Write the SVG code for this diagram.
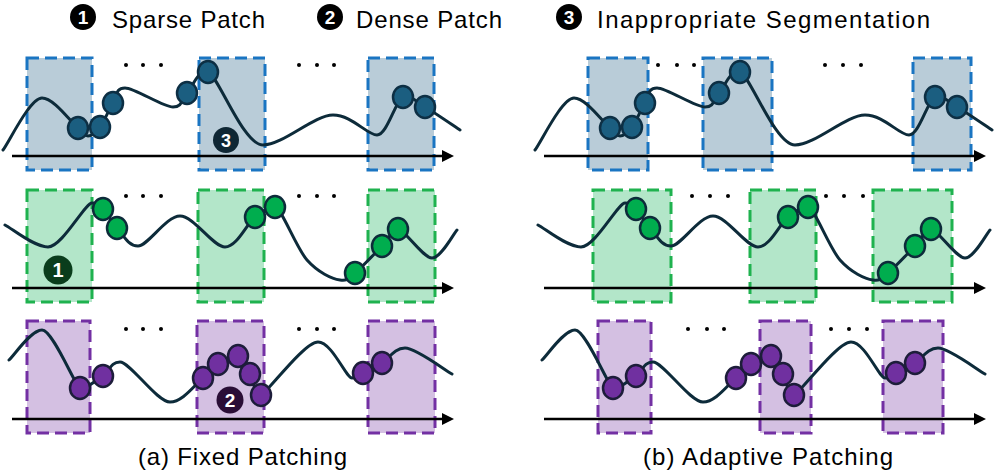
<svg xmlns="http://www.w3.org/2000/svg" xmlns:xlink="http://www.w3.org/1999/xlink" width="995" height="475" viewBox="0 0 995 475">
<style>
.txt{font-family:"Liberation Sans",Arial,sans-serif;fill:#000}
.num{font-family:"Liberation Sans",Arial,sans-serif;font-weight:bold;fill:#fff;text-anchor:middle}
.curve{fill:none;stroke:#0d2b3a;stroke-width:3;stroke-linecap:round;stroke-linejoin:round}
.axis{stroke:#000;stroke-width:2.5;fill:none}
.rb{fill:#b9ccd8;stroke:#1a75c2;stroke-width:3;stroke-dasharray:12 6}
.rg{fill:#b3e6c9;stroke:#1fb24f;stroke-width:3;stroke-dasharray:12 6}
.rp{fill:#d4c0e2;stroke:#7330a3;stroke-width:3;stroke-dasharray:12 6}
.cb{fill:#1b5e80;stroke:#0d2f44;stroke-width:2.5}
.cg{fill:#00ad4e;stroke:#0d2b3a;stroke-width:2.5}
.cp{fill:#7030a0;stroke:#1d1d3a;stroke-width:2.5}
.dot{fill:#000}
</style>
<defs>
<marker id="arr" markerWidth="12" markerHeight="12" refX="1" refY="6" orient="auto" markerUnits="userSpaceOnUse">
<path d="M0,0 L12,6 L0,12 Z" fill="#000"/>
</marker>
<g id="row1">
<path class="curve" d="M3,150 C9.5,141.3 30,98 42,98 C54,98 70.3,121.7 78,128 C85.7,134.3 84.3,136 88,136 C91.7,136 95.8,132.5 100,127 C104.2,121.5 108.8,109.5 113,103 C117.2,96.5 115,88 125,88 C135,88 163,107 173,107 C183,107 181.2,98.8 187,93 C192.8,87.2 198,69 208,72 C218,75 243,145 263,145 C283,145 314,115 333,115 C352,115 367,135 377,135 C387,135 395,101.7 403,97 C411,94.3 415.5,101.5 425,107 C434.5,112.5 454.2,126.2 460,130"/>
<ellipse class="cb" cx="78" cy="128" rx="10" ry="11"/>
<ellipse class="cb" cx="100" cy="127" rx="10" ry="11"/>
<ellipse class="cb" cx="113" cy="103" rx="10" ry="11"/>
<ellipse class="cb" cx="187" cy="93" rx="10" ry="11"/>
<ellipse class="cb" cx="208" cy="72" rx="10" ry="11"/>
<ellipse class="cb" cx="403" cy="97" rx="10" ry="11"/>
<ellipse class="cb" cx="425" cy="107" rx="10" ry="11"/>
</g>
<g id="row2">
<path class="curve" d="M5,225 C12.2,228.7 34,247 48,247 C62,247 85,203 92,203 C99,203 98.8,204.8 103,209 C107.2,213.2 111.2,221.8 117,228 C122.8,234.2 128,246 138,246 C148,246 166,216 180,216 C194,216 213,247 225,247 C237,247 246.7,223.7 255,217 C263.3,210.3 269,207 275,207 C281,207 296.2,247.8 307,260 C317.8,272.2 332,279 340,280 C348,281 348,278.7 355,273 C362,267.3 374.8,253.3 382,246 C389.2,238.7 392,229 398,229 C404,229 423,258 432,258 C441,258 452.8,234.7 457,230"/>
<ellipse class="cg" cx="103" cy="209" rx="10" ry="11"/>
<ellipse class="cg" cx="117" cy="228" rx="10" ry="11"/>
<ellipse class="cg" cx="255" cy="217" rx="10" ry="11"/>
<ellipse class="cg" cx="275" cy="207" rx="10" ry="11"/>
<ellipse class="cg" cx="355" cy="273" rx="10" ry="11"/>
<ellipse class="cg" cx="382" cy="246" rx="10" ry="11"/>
<ellipse class="cg" cx="398" cy="229" rx="10" ry="11"/>
</g>
<g id="row3">
<path class="curve" d="M9,360 C14.5,355 31,330 42,330 C53,330 75,386 80,388 C85,390 96.3,380.3 103,376 C109.7,371.7 110,362 120,362 C130,362 157,402 170,402 C183,402 195,384.3 203,378 C211,371.7 212.2,367.7 218,364 C223.8,360.3 233,356 238,356 C243,356 246.2,367.5 250,374 C253.8,380.5 255,397 261,395 C267,393 304,342 318,342 C332,342 346,378 352,378 C358,378 358,375.5 363,373 C368,370.5 375,367.2 382,363 C389,358.8 394,348 405,348 C416,348 444.2,369.7 452,374"/>
<ellipse class="cp" cx="80" cy="388" rx="10" ry="11"/>
<ellipse class="cp" cx="103" cy="376" rx="10" ry="11"/>
<ellipse class="cp" cx="203" cy="378" rx="10" ry="11"/>
<ellipse class="cp" cx="218" cy="364" rx="10" ry="11"/>
<ellipse class="cp" cx="238" cy="356" rx="10" ry="11"/>
<ellipse class="cp" cx="250" cy="374" rx="10" ry="11"/>
<ellipse class="cp" cx="261" cy="395" rx="10" ry="11"/>
<ellipse class="cp" cx="363" cy="373" rx="10" ry="11"/>
<ellipse class="cp" cx="382" cy="363" rx="10" ry="11"/>
</g>
</defs>

<g id="legend">
<circle cx="83" cy="17" r="13" fill="#000"/>
<text class="num" x="83" y="24" font-size="19">1</text>
<text class="txt" x="112" y="28" font-size="24" textLength="153" lengthAdjust="spacing">Sparse Patch</text>
<circle cx="330" cy="17" r="13" fill="#000"/>
<text class="num" x="330" y="24" font-size="19">2</text>
<text class="txt" x="356" y="28" font-size="24" textLength="146" lengthAdjust="spacing">Dense Patch</text>
<circle cx="569" cy="17" r="13" fill="#000"/>
<text class="num" x="569" y="24" font-size="19">3</text>
<text class="txt" x="597" y="28" font-size="24" textLength="333" lengthAdjust="spacing">Inappropriate Segmentation</text>
</g>

<g id="fixed-patching">
<g id="a-row1">
<rect class="rb" x="27" y="58" width="65" height="112"/>
<rect class="rb" x="199" y="58" width="66" height="112"/>
<rect class="rb" x="368" y="58" width="66" height="112"/>
<line class="axis" x1="12" y1="156" x2="443" y2="156" marker-end="url(#arr)"/>
<use xlink:href="#row1" href="#row1"/>
<circle class="dot" cx="126" cy="65" r="2"/><circle class="dot" cx="143" cy="65" r="2"/><circle class="dot" cx="161" cy="65" r="2"/>
<circle class="dot" cx="299" cy="65" r="2"/><circle class="dot" cx="317" cy="65" r="2"/><circle class="dot" cx="334" cy="65" r="2"/>
<circle cx="226" cy="140" r="13" fill="#0f2734"/>
<text class="num" x="226" y="146.5" font-size="18">3</text>
</g>
<g id="a-row2">
<rect class="rg" x="27" y="190" width="65" height="112"/>
<rect class="rg" x="198" y="190" width="66" height="112"/>
<rect class="rg" x="368" y="190" width="67" height="112"/>
<line class="axis" x1="12" y1="288" x2="443" y2="288" marker-end="url(#arr)"/>
<use xlink:href="#row2" href="#row2"/>
<circle class="dot" cx="126" cy="196" r="2"/><circle class="dot" cx="143" cy="196" r="2"/><circle class="dot" cx="161" cy="196" r="2"/>
<circle class="dot" cx="299" cy="196" r="2"/><circle class="dot" cx="317" cy="196" r="2"/><circle class="dot" cx="334" cy="196" r="2"/>
<circle cx="58" cy="270" r="14.5" fill="#0a3d1c"/>
<text class="num" x="58" y="277" font-size="20">1</text>
</g>
<g id="a-row3">
<rect class="rp" x="27" y="321" width="63" height="112"/>
<rect class="rp" x="197" y="321" width="67" height="112"/>
<rect class="rp" x="368" y="321" width="67" height="112"/>
<line class="axis" x1="12" y1="419" x2="443" y2="419" marker-end="url(#arr)"/>
<use xlink:href="#row3" href="#row3"/>
<circle class="dot" cx="126" cy="329" r="2"/><circle class="dot" cx="143" cy="329" r="2"/><circle class="dot" cx="161" cy="329" r="2"/>
<circle class="dot" cx="299" cy="329" r="2"/><circle class="dot" cx="317" cy="329" r="2"/><circle class="dot" cx="334" cy="329" r="2"/>
<circle cx="230" cy="400" r="13.5" fill="#2a0d36"/>
<text class="num" x="230" y="406.5" font-size="19">2</text>
</g>
<text class="txt" x="138" y="465" font-size="24" textLength="209" lengthAdjust="spacing">(a) Fixed Patching</text>
</g>

<g id="adaptive-patching">
<g id="b-row1">
<rect class="rb" x="588" y="58" width="60" height="112"/>
<rect class="rb" x="703" y="58" width="69" height="112"/>
<rect class="rb" x="913" y="58" width="58" height="112"/>
<line class="axis" x1="544" y1="156" x2="975" y2="156" marker-end="url(#arr)"/>
<use xlink:href="#row1" href="#row1" transform="translate(532,0)"/>
<circle class="dot" cx="658" cy="65" r="2"/><circle class="dot" cx="677" cy="65" r="2"/><circle class="dot" cx="694" cy="65" r="2"/>
<circle class="dot" cx="825" cy="65" r="2"/><circle class="dot" cx="843" cy="65" r="2"/><circle class="dot" cx="861" cy="65" r="2"/>
</g>
<g id="b-row2">
<rect class="rg" x="593" y="190" width="78" height="112"/>
<rect class="rg" x="750" y="190" width="66" height="112"/>
<rect class="rg" x="873" y="190" width="79" height="112"/>
<line class="axis" x1="544" y1="288" x2="975" y2="288" marker-end="url(#arr)"/>
<use xlink:href="#row2" href="#row2" transform="translate(533,0)"/>
<circle class="dot" cx="692" cy="196" r="2"/><circle class="dot" cx="710" cy="196" r="2"/><circle class="dot" cx="728" cy="196" r="2"/>
<circle class="dot" cx="826" cy="196" r="2"/><circle class="dot" cx="844" cy="196" r="2"/><circle class="dot" cx="863" cy="196" r="2"/>
</g>
<g id="b-row3">
<rect class="rp" x="598" y="321" width="53" height="112"/>
<rect class="rp" x="760" y="321" width="51" height="112"/>
<rect class="rp" x="883" y="321" width="60" height="112"/>
<line class="axis" x1="544" y1="419" x2="975" y2="419" marker-end="url(#arr)"/>
<use xlink:href="#row3" href="#row3" transform="translate(533,0)"/>
<circle class="dot" cx="688" cy="329" r="2"/><circle class="dot" cx="707" cy="329" r="2"/><circle class="dot" cx="724" cy="329" r="2"/>
<circle class="dot" cx="831" cy="329" r="2"/><circle class="dot" cx="849" cy="329" r="2"/><circle class="dot" cx="867" cy="329" r="2"/>
</g>
<text class="txt" x="643" y="465" font-size="24" textLength="250" lengthAdjust="spacing">(b) Adaptive Patching</text>
</g>
</svg>
